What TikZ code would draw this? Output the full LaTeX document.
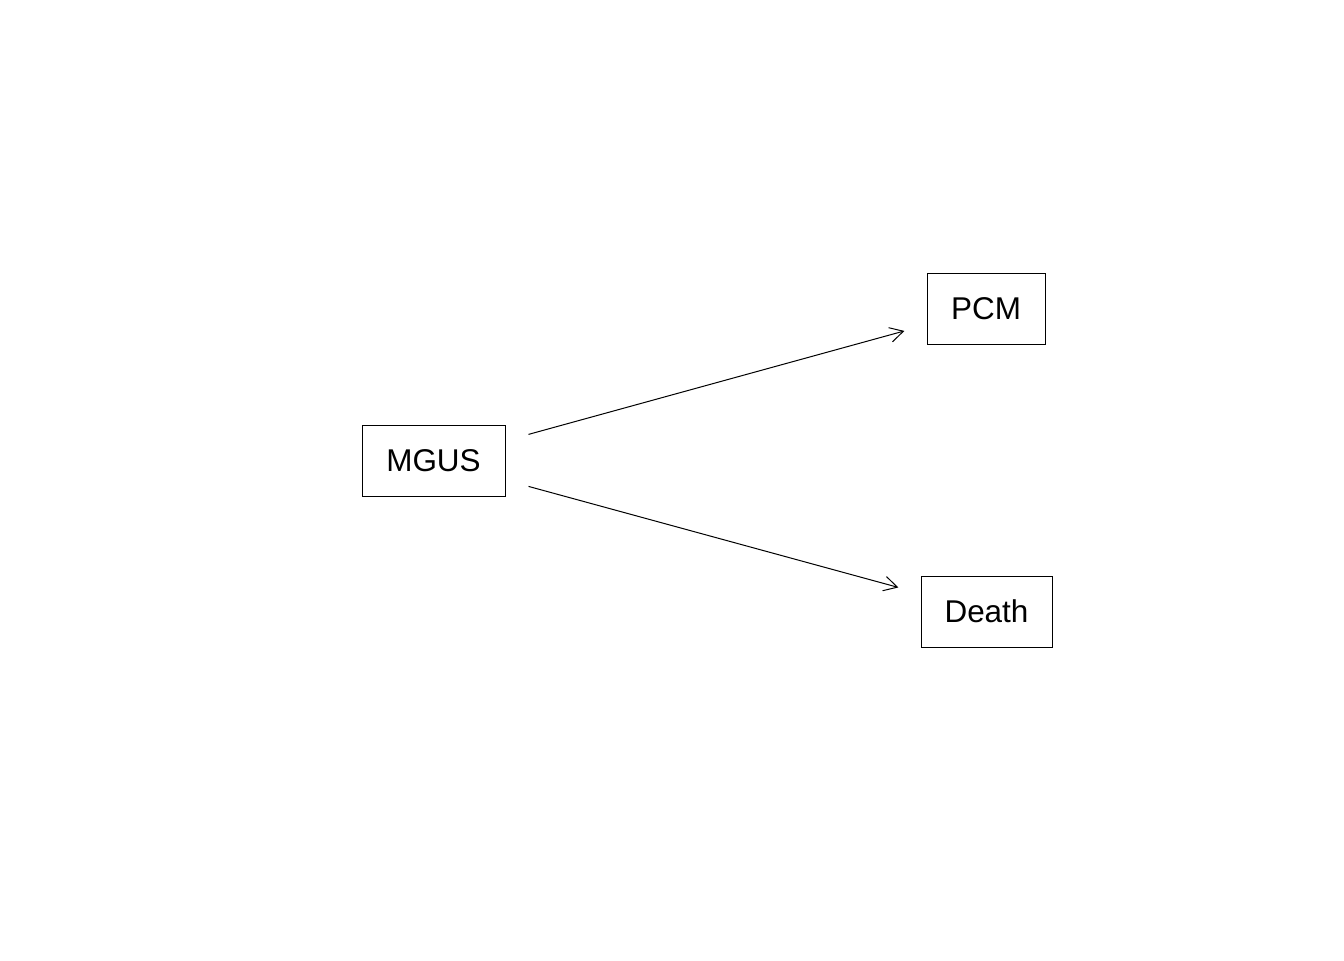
\documentclass[tikz,border=0pt]{standalone}
\usepackage{fontspec}
\setmainfont{Liberation Sans}
\usetikzlibrary{arrows.meta}
\begin{document}
\begin{tikzpicture}[x=0.75pt,y=-0.75pt,
  statebox/.style={draw=black,line width=0.75pt,inner sep=0pt,font=\fontsize{23.6}{28}\selectfont,text height=19.7pt,text depth=2.8pt},
  trans/.style={line width=0.75pt,-{Straight Barb[length=10pt,width=11pt,line width=0.75pt]},shorten <=17.9pt,shorten >=17.2pt}]
\useasboundingbox (0,0) rectangle (1344,960);
\node[statebox,minimum width=107.25pt,minimum height=53.25pt] (MGUS) at (433.5,460.5) {MGUS};
\node[statebox,minimum width=88.5pt,minimum height=53.25pt] (PCM) at (986,308.5) {PCM};
\node[statebox,minimum width=98.25pt,minimum height=53.25pt] (Death) at (986.5,611.5) {Death};
\draw[trans] (MGUS) -- (PCM);
\draw[trans] (MGUS) -- (Death);
\end{tikzpicture}
\end{document}
